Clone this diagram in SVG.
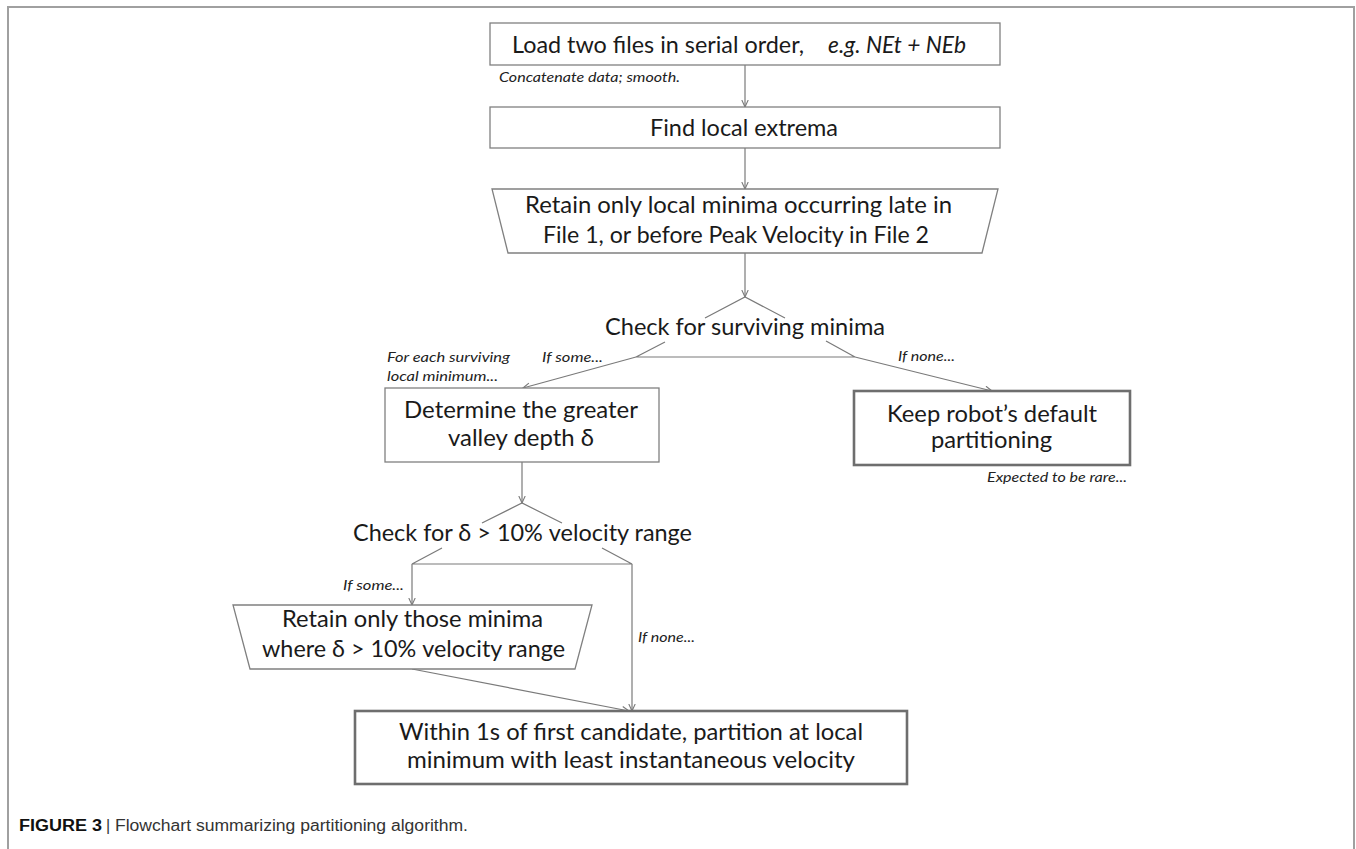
<svg xmlns="http://www.w3.org/2000/svg" width="1356" height="849" viewBox="0 0 1356 849">
<defs>
<style>
.frame{fill:none;stroke:#a0a0a0;stroke-width:2}
.box{fill:#fff;stroke:#808080;stroke-width:1.3}
.boxb{fill:#fff;stroke:#6e6e6e;stroke-width:2.6}
.ln{fill:none;stroke:#7a7a7a;stroke-width:1.2}
.arr{fill:none;stroke:#7a7a7a;stroke-width:1.2;marker-end:url(#ah)}
.t{font-family:Lato,"Open Sans",sans-serif;font-size:23px;fill:#1a1a1a}
.ti{font-family:Lato,"Open Sans",sans-serif;font-size:23px;font-style:italic;fill:#1a1a1a}
.s{font-family:Lato,"Open Sans",sans-serif;font-size:14px;font-style:italic;fill:#222}
.cap{font-family:"Liberation Sans",Arial,sans-serif;font-size:16px;fill:#333}
.capb{font-family:"Liberation Sans",Arial,sans-serif;font-size:16px;font-weight:bold;fill:#111}
</style>
<marker id="ah" viewBox="0 0 8 8" refX="7.5" refY="4" markerWidth="8" markerHeight="8" markerUnits="userSpaceOnUse" orient="auto">
<path d="M0.5,0.8 L7.5,4 L0.5,7.2" fill="none" stroke="#7a7a7a" stroke-width="1.1"/>
</marker>
</defs>
<rect width="1356" height="849" fill="#fff"/>
<path class="frame" d="M8,860 V7 H1354 V860"/>

<g id="connectors">
<path class="arr" d="M745,65 V107"/>
<path class="arr" d="M745,148 V189"/>
<path class="arr" d="M745,253 V297"/>
<path class="ln" d="M705,318 L745,297 L785,318"/>
<path class="ln" d="M665,342 L636,357 H855 L826,341"/>
<path class="arr" d="M636,357 L523,388"/>
<path class="arr" d="M855,357 L992,391"/>
<path class="arr" d="M522,462 V503"/>
<path class="ln" d="M482,523 L522,503 L562,523"/>
<path class="ln" d="M442,548 L412,564 H632 L602,548"/>
<path class="arr" d="M412,564 V605"/>
<path class="arr" d="M632,564 V711"/>
<path class="arr" d="M412,669 L629,711"/>
</g>

<g id="load">
<rect class="box" x="490" y="23" width="510" height="42"/>
<text class="t" x="512" y="53" textLength="292" lengthAdjust="spacingAndGlyphs">Load two files in serial order,</text>
<text class="ti" x="828" y="53" textLength="138" lengthAdjust="spacingAndGlyphs">e.g. NEt + NEb</text>
</g>
<text class="s" x="499" y="82" textLength="181" lengthAdjust="spacingAndGlyphs">Concatenate data; smooth.</text>

<g id="find">
<rect class="box" x="490" y="107" width="510" height="41"/>
<text class="t" x="650" y="136" textLength="188" lengthAdjust="spacingAndGlyphs">Find local extrema</text>
</g>

<g id="retain1">
<polygon class="box" points="492,189 998,189 982,253 508,253"/>
<text class="t" x="525" y="213" textLength="427" lengthAdjust="spacingAndGlyphs">Retain only local minima occurring late in</text>
<text class="t" x="543" y="243" textLength="386" lengthAdjust="spacingAndGlyphs">File 1, or before Peak Velocity in File 2</text>
</g>

<g id="check1">
<text class="t" x="605" y="335" textLength="280" lengthAdjust="spacingAndGlyphs">Check for surviving minima</text>
</g>
<text class="s" x="387" y="362" textLength="123" lengthAdjust="spacingAndGlyphs">For each surviving</text>
<text class="s" x="387" y="381" textLength="111" lengthAdjust="spacingAndGlyphs">local minimum...</text>
<text class="s" x="542" y="362" textLength="61" lengthAdjust="spacingAndGlyphs">If some...</text>
<text class="s" x="898" y="361" textLength="57" lengthAdjust="spacingAndGlyphs">If none...</text>

<g id="determine">
<rect class="box" x="385" y="388" width="274" height="74"/>
<text class="t" x="404" y="418" textLength="234" lengthAdjust="spacingAndGlyphs">Determine the greater</text>
<text class="t" x="448" y="446" textLength="146" lengthAdjust="spacingAndGlyphs">valley depth δ</text>
</g>

<g id="keep">
<rect class="boxb" x="854" y="391" width="276" height="74"/>
<text class="t" x="887" y="422" textLength="210" lengthAdjust="spacingAndGlyphs">Keep robot’s default</text>
<text class="t" x="931" y="448" textLength="121" lengthAdjust="spacingAndGlyphs">partitioning</text>
</g>
<text class="s" x="987" y="482" textLength="140" lengthAdjust="spacingAndGlyphs">Expected to be rare...</text>

<g id="check2">
<text class="t" x="353" y="541" textLength="339" lengthAdjust="spacingAndGlyphs">Check for δ &gt; 10% velocity range</text>
</g>
<text class="s" x="343" y="590" textLength="61" lengthAdjust="spacingAndGlyphs">If some...</text>
<text class="s" x="638" y="642" textLength="57" lengthAdjust="spacingAndGlyphs">If none...</text>

<g id="retain2">
<polygon class="box" points="233,605 592,605 575,669 250,669"/>
<text class="t" x="282" y="627" textLength="261" lengthAdjust="spacingAndGlyphs">Retain only those minima</text>
<text class="t" x="262" y="657" textLength="303" lengthAdjust="spacingAndGlyphs">where δ &gt; 10% velocity range</text>
</g>

<g id="final">
<rect class="boxb" x="355" y="711" width="552" height="73"/>
<text class="t" x="399" y="740" textLength="464" lengthAdjust="spacingAndGlyphs">Within 1s of first candidate, partition at local</text>
<text class="t" x="407" y="768" textLength="448" lengthAdjust="spacingAndGlyphs">minimum with least instantaneous velocity</text>
</g>

<g id="caption">
<text class="capb" x="19" y="831" textLength="83" lengthAdjust="spacingAndGlyphs">FIGURE 3</text>
<text class="cap" x="106" y="831" fill="#888">|</text>
<text class="cap" x="115" y="831" textLength="353" lengthAdjust="spacingAndGlyphs">Flowchart summarizing partitioning algorithm.</text>
</g>
</svg>
